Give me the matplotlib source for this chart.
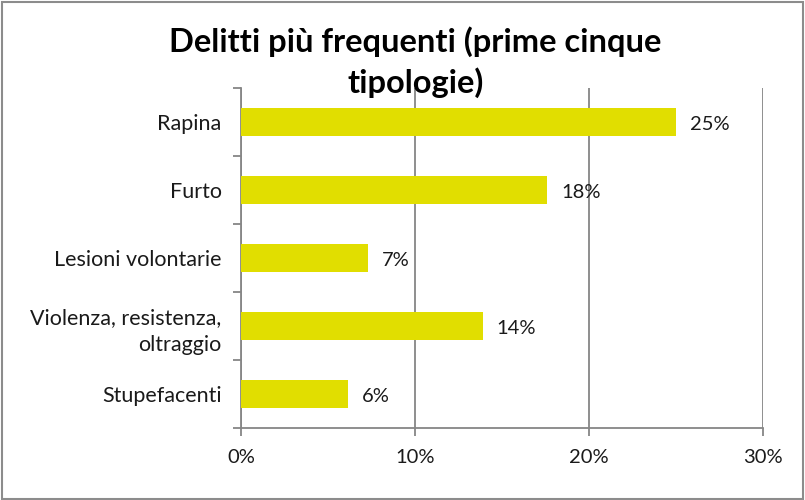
import matplotlib
matplotlib.use("Agg")
import matplotlib.pyplot as plt
from matplotlib.patches import Rectangle
import numpy as np

categories = ["Rapina", "Furto", "Lesioni volontarie", "Violenza, resistenza,\noltraggio", "Stupefacenti"]
values = [25.0, 17.6, 7.3, 13.9, 6.15]
labels = ["25%", "18%", "7%", "14%", "6%"]
xticks = [0, 10, 20, 30]
xticklabels = ["0%", "10%", "20%", "30%"]
title = "Delitti più frequenti (prime cinque\ntipologie)"

plt.rcParams['font.family'] = ['Lato', 'DejaVu Sans']

fig = plt.figure(figsize=(8.05, 5.0), dpi=100)
ax = fig.add_axes([241/805, 1-428/500, (763-241)/805, (428-88)/500])

grid_c = "#868686"
bar_c = "#E1DE00"
text_c = "#1a1a1a"

y = np.arange(len(categories))
ax.barh(y, values, height=0.4, color=bar_c, zorder=3)
for yi, v, lab in zip(y, values, labels):
    ax.text(v + 0.8, yi + 0.03, lab, va="center", ha="left", fontsize=14.5, color=text_c)

ax.set_xlim(0, 30)
ax.set_ylim(len(categories) - 0.5, -0.5)
ax.set_xticks(xticks)
ax.set_xticklabels(xticklabels, fontsize=14.5, color=text_c)
ax.set_yticks(y)
ax.set_yticklabels(categories, fontsize=15.5, color=text_c, linespacing=1.45)
ax.set_yticks(np.arange(-0.5, len(categories), 1.0), minor=True)
ax.tick_params(axis="y", which="major", length=0, pad=14)
ax.tick_params(axis="y", which="minor", length=6, width=1.3, color=grid_c)
ax.tick_params(axis="x", which="major", length=6, width=1.3, color=grid_c, pad=9)

for s in ["top", "right"]:
    ax.spines[s].set_visible(False)
for s in ["left", "bottom"]:
    ax.spines[s].set_color(grid_c)
    ax.spines[s].set_linewidth(1.3)

ax.grid(axis="x", color=grid_c, linewidth=1.3, zorder=0)
ax.set_axisbelow(True)

fig.text(0.516, 0.947, title, ha="center", va="top", fontsize=23.5, fontweight="bold",
         color="black", linespacing=1.4)

fig.patches.append(Rectangle((0.002, 0.003), 0.995, 0.993, transform=fig.transFigure,
                             fill=False, edgecolor="#8c8c8c", linewidth=1.5))

fig.savefig("out.png", dpi=100)
